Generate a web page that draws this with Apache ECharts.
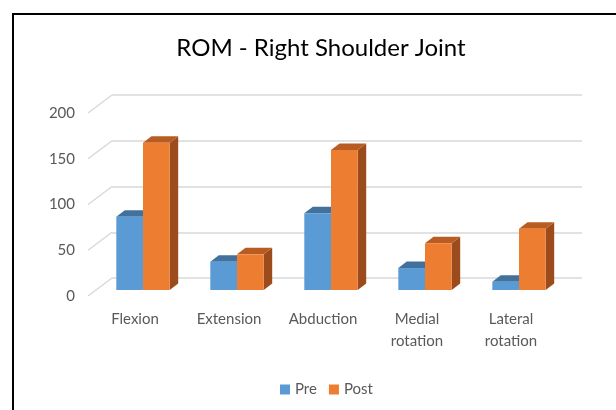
<!DOCTYPE html>
<html>
<head>
<meta charset="utf-8">
<style>
  html, body { margin: 0; padding: 0; background: #fff; }
  #chart { width: 616px; height: 410px; }
</style>
</head>
<body>
<div id="chart"></div>
<script src="https://cdn.jsdelivr.net/npm/echarts@6/dist/echarts.min.js"></script>
<script>
// data
var categories = ['Flexion', 'Extension', 'Abduction', 'Medial\nrotation', 'Lateral\nrotation'];
var preValues = [80, 31, 84, 24, 9];
var postValues = [161, 39, 153, 51, 67];
var yTicks = [0, 50, 100, 150, 200];

var FONT = 'Lato';
// depth of a bar (side / top face) and of the whole floor (front -> back wall)
var BAR_DX = 8.5, BAR_DY = -6.5;
var WALL_DX = 24, WALL_DY = -18;

var colors = {
  pre: { front: '#5B9BD5', top: '#41719C', side: '#3E6D98' },
  post: { front: '#ED7D31', top: '#B85C22', side: '#9C4C1C' }
};

// 3d-ish bar, side 0 = left half of the band, 1 = right half
function barRender(side, c) {
  return function (params, api) {
    var idx = api.value(0);
    var top = api.coord([idx, api.value(1)]);
    var base = api.coord([idx, 0]);
    var band = api.size([1, 0])[0];
    var w = band * 0.284;
    var x0 = side === 0 ? top[0] - w : top[0];
    var x1 = x0 + w;
    var yt = top[1], yb = base[1];
    return {
      type: 'group',
      children: [
        { type: 'polygon', shape: { points: [[x1, yt], [x1 + BAR_DX, yt + BAR_DY], [x1 + BAR_DX, yb + BAR_DY], [x1, yb]] }, style: { fill: c.side } },
        { type: 'polygon', shape: { points: [[x0, yt], [x1, yt], [x1 + BAR_DX, yt + BAR_DY], [x0 + BAR_DX, yt + BAR_DY]] }, style: { fill: c.top } },
        { type: 'rect', shape: { x: x0, y: yt, width: w, height: yb - yt }, style: { fill: c.front } }
      ]
    };
  };
}

// diagonal lines of the side wall, from the front plane to the back wall
function wallRender(params, api) {
  var p = api.coord([0, api.value(0)]);
  var band = api.size([1, 0])[0];
  var x = p[0] - band / 2;
  return {
    type: 'line',
    shape: { x1: x, y1: p[1], x2: x + WALL_DX, y2: p[1] + WALL_DY },
    style: { stroke: '#D9D9D9', lineWidth: 1.5 }
  };
}

var myChart = echarts.init(document.getElementById('chart'));
var option = {
  animation: false,
  backgroundColor: '#fff',
  title: {
    text: 'ROM - Right Shoulder Joint',
    left: 316,
    top: 31,
    textAlign: 'center',
    textStyle: { fontFamily: FONT, fontSize: 24, fontWeight: 'normal', color: '#000' }
  },
  legend: {
    data: ['Pre', 'Post'],
    top: 377,
    left: 275,
    icon: 'rect',
    itemWidth: 10,
    itemHeight: 10,
    itemGap: 12,
    textStyle: { fontFamily: FONT, fontSize: 15, color: '#595959' }
  },
  graphic: [{
    type: 'rect',
    shape: { x: 13, y: 14, width: 700, height: 500 },
    style: { fill: 'none', stroke: '#000', lineWidth: 2 },
    z: 100
  }],
  grid: [
    // bar plane
    { left: 96, right: 50, top: 107, bottom: 120 },
    // front plane (labels)
    { left: 88, right: 58, top: 113, bottom: 114 },
    // back wall
    { left: 112, right: 34, top: 95, bottom: 132 }
  ],
  xAxis: [
    { type: 'category', gridIndex: 0, data: categories, show: false },
    {
      type: 'category', gridIndex: 1, data: categories,
      axisLine: { show: false }, axisTick: { show: false },
      axisLabel: { margin: 12, fontFamily: FONT, fontSize: 15, lineHeight: 22, color: '#595959', interval: 0 }
    },
    { type: 'category', gridIndex: 2, data: categories, show: false }
  ],
  yAxis: [
    { type: 'value', gridIndex: 0, min: 0, max: 200, interval: 50, show: false },
    {
      type: 'value', gridIndex: 1, min: 0, max: 200, interval: 50,
      axisLine: { show: false }, axisTick: { show: false }, splitLine: { show: false },
      axisLabel: { margin: 13, fontFamily: FONT, fontSize: 15, color: '#595959' }
    },
    {
      type: 'value', gridIndex: 2, min: 0, max: 200, interval: 50,
      axisLine: { show: false }, axisTick: { show: false }, axisLabel: { show: false },
      splitLine: { show: true, lineStyle: { color: '#D9D9D9', width: 1.5 } }
    }
  ],
  series: [
    {
      name: 'wall', type: 'custom', xAxisIndex: 1, yAxisIndex: 1,
      renderItem: wallRender, data: yTicks.map(function (v) { return [v]; }),
      encode: { y: 0 }, silent: true
    },
    {
      name: 'Pre', type: 'custom', xAxisIndex: 0, yAxisIndex: 0,
      itemStyle: { color: colors.pre.front },
      renderItem: barRender(0, colors.pre),
      data: preValues.map(function (v, i) { return [i, v]; })
    },
    {
      name: 'Post', type: 'custom', xAxisIndex: 0, yAxisIndex: 0,
      itemStyle: { color: colors.post.front },
      renderItem: barRender(1, colors.post),
      data: postValues.map(function (v, i) { return [i, v]; })
    }
  ]
};
myChart.setOption(option);
window.onresize = function () { myChart.resize(); };
</script>
</body>
</html>
